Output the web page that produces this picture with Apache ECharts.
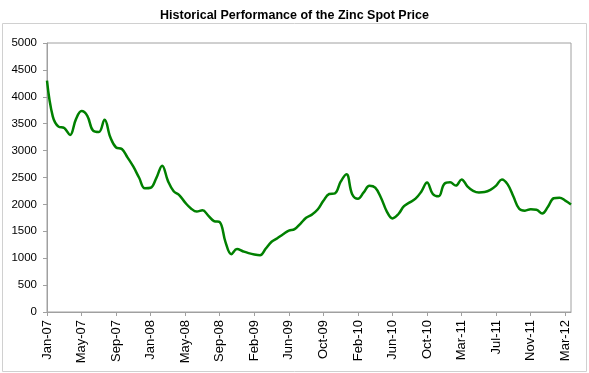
<!DOCTYPE html>
<html><head><meta charset="utf-8">
<script src="https://cdn.jsdelivr.net/npm/echarts@6/dist/echarts.min.js"></script>
<style>html,body{margin:0;padding:0;background:#fff;}#c{width:589px;height:373px;}</style>
</head><body><div id="c"></div>
<script>
var tickLabels = ['Jan-07','May-07','Sep-07','Jan-08','May-08','Sep-08','Feb-09','Jun-09','Oct-09','Feb-10','Jun-10','Oct-10','Mar-11','Jul-11','Nov-11','Mar-12'];
var pointsPerTick = 6;
var zincPrice = [
4300,3637,3445,3420,3290,3575,3735,3646,3370,3345,
3575,3247,3057,3030,2870,2700,2495,2300,2310,2494,
2720,2437,2246,2168,2032,1925,1866,1891,1792,1690,
1670,1300,1075,1170,1130,1094,1068,1055,1180,1305,
1372,1446,1512,1540,1640,1750,1810,1904,2067,2193,
2206,2422,2560,2190,2105,2225,2345,2310,2125,1872,
1740,1817,1967,2038,2106,2237,2405,2194,2150,2383,
2410,2350,2465,2337,2253,2222,2230,2271,2349,2465,
2373,2147,1918,1884,1910,1902,1830,1958,2115,2125,
2070,2000];
var categories = zincPrice.map(function(v,i){ return (i % pointsPerTick === 0 && tickLabels[i/pointsPerTick]) ? tickLabels[i/pointsPerTick] : ('p'+i); });

var chart = echarts.init(document.getElementById('c'), null, {renderer:'canvas'});
chart.setOption({
  animation:false,
  backgroundColor:'#fff',
  title:{text:'Historical Performance of the Zinc Spot Price',left:'center',top:4,
    textStyle:{fontFamily:'Liberation Sans, Arial, sans-serif',fontWeight:'bold',fontSize:12.5,color:'#000'}},
  graphic:[{type:'rect',shape:{x:2.5,y:23.5,width:584,height:348},style:{fill:'none',stroke:'#d0d0d0',lineWidth:1},silent:true}],
  grid:{left:47,right:18,top:43,bottom:61,show:true,borderColor:'#a0a0a0',borderWidth:1,containLabel:false},
  xAxis:{type:'category',data:categories,boundaryGap:false,
    axisLine:{lineStyle:{color:'#a0a0a0'}},
    axisTick:{show:true,interval:pointsPerTick-1,length:4,lineStyle:{color:'#a0a0a0'}},
    axisLabel:{interval:pointsPerTick-1,rotate:90,margin:8,fontSize:13,color:'#000',fontFamily:'Liberation Sans, Arial, sans-serif',
      formatter:function(v){return v.charAt(0)==='p'?'':v;}},
    splitLine:{show:false}},
  yAxis:{type:'value',min:0,max:5000,interval:500,
    axisLine:{show:true,lineStyle:{color:'#a0a0a0'}},
    axisTick:{show:true,length:4,lineStyle:{color:'#a0a0a0'}},
    axisLabel:{margin:10,fontSize:11.5,color:'#000',fontFamily:'Liberation Sans, Arial, sans-serif',
      formatter:function(v){return String(v);}},
    splitLine:{show:false}},
  series:[{type:'line',data:zincPrice,smooth:0.4,symbol:'none',
    lineStyle:{color:'#008000',width:2.5}}]
});
</script></body></html>
